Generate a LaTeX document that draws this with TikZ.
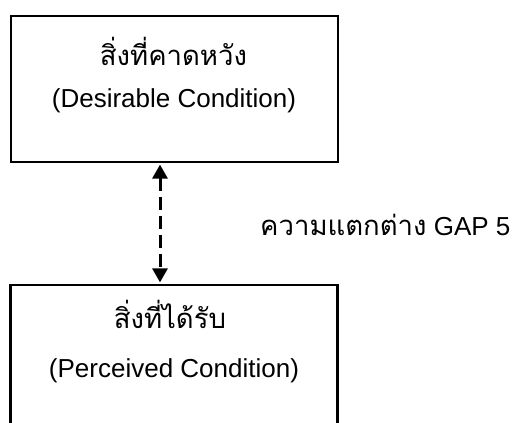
\documentclass[tikz,border=0pt]{standalone}
\usepackage{fontspec}
\setmainfont{Liberation Sans}
\newfontfamily\thaifont[Script=Thai]{Loma}
\usetikzlibrary{arrows.meta}
\tikzset{
  box/.style={draw=black, line width=2.2pt, minimum width=327pt, inner sep=0pt},
  thaitxt/.style={anchor=base, inner sep=0pt, font=\thaifont\fontsize{27.5}{30}\selectfont},
  entxt/.style={anchor=base, inner sep=0pt, font=\fontsize{26}{30}\selectfont},
  gap/.style={line width=3pt, dash pattern=on 13pt off 6pt,
    {Triangle[width=15pt,length=14pt]}-{Triangle[width=15pt,length=14pt]}, shorten <=1.5pt, shorten >=1.5pt}
}
\begin{document}
\begin{tikzpicture}[x=1pt,y=-1pt]
\useasboundingbox (0,0) rectangle (517,423);
\clip (0,0) rectangle (517,423);
\node[box, minimum height=146pt] (top) at (174.5,89) {};
\node[box, minimum height=160pt] (bot) at (174,365) {};
\node[thaitxt] (t1) at (173.5,65) {สิ่งที่คาดหวัง};
\node[entxt] (e1) at (174,107) {(Desirable Condition)};
\node[thaitxt] (t2) at (170,328) {สิ่งที่ได้รับ};
\node[entxt] (e2) at (174,377) {(Perceived Condition)};
\coordinate (ax) at (160,0);
\draw[gap] (top.south -| ax) -- (bot.north -| ax);
\node[anchor=base west, inner sep=0pt, font=\fontsize{26}{30}\selectfont] (lab) at (260,235) {{\thaifont\fontsize{27.5}{30}\selectfont ความแตกต่าง} GAP 5};
\end{tikzpicture}
\end{document}
